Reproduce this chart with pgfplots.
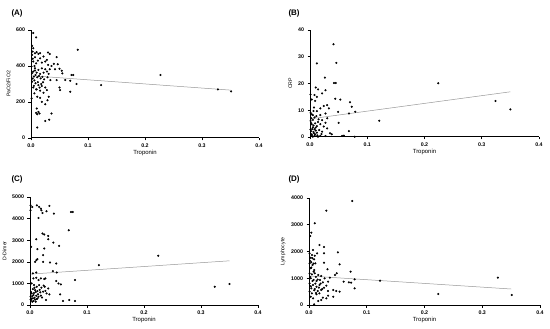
\documentclass[border=0pt]{standalone}
\usepackage{pgfplots}
\pgfplotsset{compat=1.18}
\usepackage{fontspec}
\setmainfont{Liberation Sans}
\definecolor{regline}{RGB}{150,150,150}
\pgfplotsset{
  panel/.style={
    scale only axis, anchor=south west,
    xmin=0, xmax=0.4,
    axis x line*=bottom, axis y line*=left,
    axis line style={-, line width=1pt, black},
    tick align=outside, major tick length=2.5bp,
    tick style={line width=0.6pt, black},
    xtick={0,0.1,0.2,0.3,0.4},
    xticklabel style={/pgf/number format/.cd, fixed, fixed zerofill, precision=1},
    yticklabel style={/pgf/number format/.cd, fixed, 1000 sep={}},
    scaled y ticks=false, scaled x ticks=false,
    /pgf/number format/assume math mode=true,
    ticklabel style={font=\fontsize{5.3}{6}\selectfont\bfseries},
    xlabel style={font=\fontsize{6}{7}\selectfont, yshift=4bp},
    ylabel style={font=\fontsize{5.2}{6}\selectfont, yshift=-1bp},
    xlabel={Troponin},
    clip=false,
  },
  pts/.style={only marks, mark=*, mark size=0.85pt, black},
  reg/.style={regline, line width=0.5pt, no marks},
}
\begin{document}
\begin{tikzpicture}
\path[use as bounding box] (0,0) rectangle (550bp,329bp);
\node[anchor=west, font=\fontsize{8}{9}\selectfont\bfseries] at (8bp,316bp) {(A)};
\node[anchor=west, font=\fontsize{8}{9}\selectfont\bfseries] at (285bp,316bp) {(B)};
\node[anchor=west, font=\fontsize{8}{9}\selectfont\bfseries] at (8bp,150bp) {(C)};
\node[anchor=west, font=\fontsize{8}{9}\selectfont\bfseries] at (285bp,150bp) {(D)};
% (A)
\begin{axis}[panel, at={(31bp,191bp)}, width=228bp, height=108bp,
  ymin=0, ymax=600, ytick={0,200,400,600}, ylabel={PaO2/FiO2}]
\addplot[pts] coordinates {
(0.004,583) (0.009,559) (0.002,512) (0.004,499) (0.003,480) (0.007,471) (0.010,477)
(0.013,467) (0.016,471) (0.002,462) (0.007,449) (0.016,443) (0.022,453) (0.030,475)
(0.033,467) (0.045,449) (0.082,490) (0.004,425) (0.009,415) (0.019,419) (0.025,425)
(0.028,434) (0.040,412) (0.047,410) (0.036,400) (0.030,406) (0.001,397) (0.007,387)
(0.013,378) (0.019,387) (0.025,382) (0.033,382) (0.042,382) (0.050,385) (0.054,374)
(0.028,369) (0.004,369) (0.010,363) (0.016,356) (0.022,363) (0.031,356) (0.055,359)
(0.071,350) (0.074,350) (0.227,350) (0.005,341) (0.011,337) (0.017,331) (0.023,326)
(0.029,337) (0.034,322) (0.045,322) (0.060,322) (0.069,318) (0.080,300) (0.123,294)
(0.002,313) (0.008,304) (0.013,294) (0.019,289) (0.025,281) (0.050,281) (0.051,266)
(0.069,257) (0.004,281) (0.010,270) (0.016,263) (0.022,251) (0.028,266) (0.328,270)
(0.351,259) (0.006,248) (0.011,229) (0.016,223) (0.031,229) (0.001,220) (0.019,201)
(0.029,210) (0.025,188) (0.010,164) (0.013,145) (0.009,140) (0.011,132) (0.015,136)
(0.036,136) (0.032,102) (0.025,95) (0.011,58)
(0.003,330) (0.006,320) (0.008,350) (0.012,310) (0.005,290) (0.014,345) (0.018,300)
(0.020,340) (0.006,400) (0.012,430) (0.003,440) (0.009,270) (0.015,280) (0.021,310)
(0.002,360) (0.007,375)
};
\addplot[reg] coordinates {(0.001,346) (0.350,266)};
\end{axis}
% (B)
\begin{axis}[panel, at={(310bp,192bp)}, width=229bp, height=107bp,
  ymin=0, ymax=40, ytick={0,10,20,30,40}, ylabel={CRP}]
\addplot[pts] coordinates {
(0.041,34.7) (0.012,27.5) (0.046,27.7) (0.026,22.2) (0.042,20.2) (0.045,20.2)
(0.224,20.1) (0.010,18.5) (0.014,17.8) (0.027,17.5) (0.021,16.3) (0.001,15.9)
(0.008,15.7) (0.012,15.0) (0.003,14.0) (0.009,13.5) (0.044,14.3) (0.053,14.0)
(0.070,13.0) (0.073,11.3) (0.324,13.5) (0.350,10.3) (0.024,11.6) (0.030,11.9)
(0.033,10.7) (0.018,10.7) (0.006,9.7) (0.012,9.7) (0.049,9.4) (0.079,9.4)
(0.068,8.8) (0.027,8.8) (0.018,8.2) (0.005,8.2) (0.002,7.0) (0.008,7.3)
(0.015,6.6) (0.021,6.3) (0.030,7.0) (0.121,6.1) (0.050,5.3) (0.027,5.3)
(0.001,6.0) (0.003,4.8) (0.009,5.1) (0.012,4.1) (0.018,4.8) (0.024,3.9)
(0.030,3.2) (0.068,2.2) (0.005,3.6) (0.008,2.9) (0.002,2.2) (0.007,1.4)
(0.012,1.6) (0.021,2.0) (0.035,1.4) (0.038,1.0) (0.002,0.7) (0.008,0.4)
(0.018,0.4) (0.027,0.4) (0.056,0.4) (0.059,0.5) (0.078,0.1) (0.014,0.1) (0.005,0.1)
(0.001,2.8) (0.004,3.0) (0.006,4.3) (0.010,2.4) (0.002,5.2) (0.005,6.4) (0.011,7.8)
(0.003,1.0) (0.009,1.0) (0.013,0.6) (0.016,2.6) (0.001,9.0) (0.007,11.0) (0.004,0.3)
(0.010,3.5) (0.014,5.6) (0.020,1.1) (0.006,1.9) (0.003,8.5)
};
\addplot[reg] coordinates {(0.001,6.8) (0.350,16.9)};
\end{axis}
% (C)
\begin{axis}[panel, at={(30bp,24bp)}, width=228bp, height=108bp,
  ymin=0, ymax=5000, ytick={0,1000,2000,3000,4000,5000}, ylabel={D-Dimer}]
\addplot[pts] coordinates {
(0.001,4615) (0.004,4538) (0.001,4385) (0.012,4615) (0.016,4538) (0.019,4462)
(0.020,4385) (0.022,4262) (0.034,4585) (0.029,4338) (0.042,4231) (0.015,4031)
(0.072,4308) (0.075,4308) (0.068,3462) (0.022,3308) (0.025,3262) (0.032,3200)
(0.032,3046) (0.011,3046) (0.041,2892) (0.051,2738) (0.002,2692) (0.025,2615)
(0.013,2585) (0.023,2308) (0.225,2277) (0.011,2077) (0.013,2123) (0.009,2000)
(0.023,2000) (0.035,1969) (0.046,1923) (0.121,1846) (0.040,1569) (0.047,1508)
(0.005,1462) (0.011,1508) (0.006,1231) (0.011,1262) (0.015,1154) (0.019,1231)
(0.025,1200) (0.027,1231) (0.046,1108) (0.050,1000) (0.054,954) (0.079,1154)
(0.324,846) (0.350,969) (0.003,1000) (0.007,923) (0.012,846) (0.016,923)
(0.020,800) (0.026,846) (0.032,769) (0.005,738) (0.009,692) (0.013,646)
(0.018,585) (0.023,615) (0.029,538) (0.034,492) (0.053,492) (0.003,538)
(0.006,462) (0.011,431) (0.015,385) (0.019,431) (0.005,308) (0.008,338)
(0.012,277) (0.002,231) (0.006,185) (0.010,154) (0.028,231) (0.058,185)
(0.069,231) (0.079,185) (0.001,385) (0.004,154)
(0.002,600) (0.004,420) (0.007,560) (0.009,250) (0.003,300) (0.014,500) (0.017,700)
(0.008,800) (0.021,350) (0.024,900) (0.001,250) (0.010,600) (0.013,300) (0.027,650)
};
\addplot[reg] coordinates {(0.001,1431) (0.350,2046)};
\end{axis}
% (D)
\begin{axis}[panel, at={(309bp,24bp)}, width=231bp, height=107bp,
  ymin=0, ymax=4000, ytick={0,1000,2000,3000,4000}, ylabel={Lymphocyte}]
\addplot[pts] coordinates {
(0.075,3888) (0.030,3526) (0.010,3053) (0.004,2704) (0.002,2579) (0.018,2243)
(0.026,2168) (0.007,2056) (0.050,1969) (0.026,1931) (0.014,1931) (0.001,1931)
(0.005,1869) (0.010,1844) (0.003,1769) (0.009,1707) (0.026,1583) (0.001,1558)
(0.006,1495) (0.011,1558) (0.053,1520) (0.003,1371) (0.009,1308) (0.032,1333)
(0.072,1246) (0.001,1184) (0.005,1146) (0.010,1184) (0.016,1121) (0.021,1084)
(0.027,997) (0.036,1022) (0.045,1121) (0.048,1184) (0.327,1022) (0.123,910)
(0.079,960) (0.003,997) (0.008,935) (0.013,897) (0.019,935) (0.024,847)
(0.033,872) (0.060,872) (0.069,847) (0.073,835) (0.001,810) (0.007,748)
(0.013,685) (0.018,748) (0.026,648) (0.030,723) (0.004,623) (0.010,598)
(0.015,523) (0.021,561) (0.033,523) (0.042,561) (0.047,523) (0.053,498)
(0.079,623) (0.001,498) (0.005,436) (0.013,399) (0.018,436) (0.033,349)
(0.042,312) (0.224,411) (0.351,374) (0.024,274) (0.030,249) (0.021,187)
(0.016,150) (0.009,25) (0.003,312) (0.007,249)
(0.002,1650) (0.006,1750) (0.004,1400) (0.008,1250) (0.012,1050) (0.002,1050)
(0.006,900) (0.011,800) (0.015,950) (0.003,700) (0.009,550) (0.017,650)
(0.020,800) (0.023,600) (0.012,450) (0.004,1600) (0.008,1550)
};
\addplot[reg] coordinates {(0.001,1084) (0.350,598)};
\end{axis}
\end{tikzpicture}
\end{document}
